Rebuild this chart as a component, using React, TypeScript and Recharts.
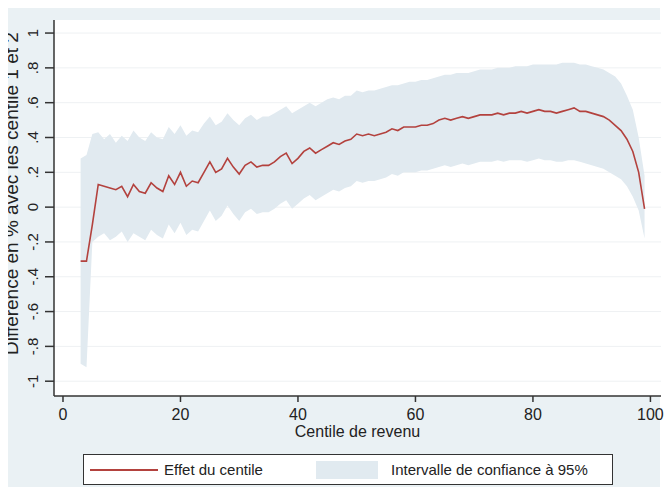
import React from 'react';
import { ComposedChart, Area, Line, XAxis, YAxis, CartesianGrid } from 'recharts';

// centiles de revenu
const centiles = [
  3, 4, 5, 6, 7, 8, 9, 10, 11, 12, 13, 14, 15, 16, 17, 18, 19, 20, 21, 22,
  23, 24, 25, 26, 27, 28, 29, 30, 31, 32, 33, 34, 35, 36, 37, 38, 39, 40, 41, 42,
  43, 44, 45, 46, 47, 48, 49, 50, 51, 52, 53, 54, 55, 56, 57, 58, 59, 60, 61, 62,
  63, 64, 65, 66, 67, 68, 69, 70, 71, 72, 73, 74, 75, 76, 77, 78, 79, 80, 81, 82,
  83, 84, 85, 86, 87, 88, 89, 90, 91, 92, 93, 94, 95, 96, 97, 98, 99,
];

// effet du centile (estimation)
const effet = [
  -0.31, -0.31, -0.1, 0.13, 0.12, 0.11, 0.1, 0.12, 0.06, 0.13, 0.09, 0.08, 0.14, 0.11, 0.09, 0.18, 0.13, 0.2, 0.12, 0.15,
  0.14, 0.2, 0.26, 0.2, 0.22, 0.28, 0.23, 0.19, 0.24, 0.26, 0.23, 0.24, 0.24, 0.26, 0.29, 0.31, 0.25, 0.28, 0.32, 0.34,
  0.31, 0.33, 0.35, 0.37, 0.36, 0.38, 0.39, 0.42, 0.41, 0.42, 0.41, 0.42, 0.43, 0.45, 0.44, 0.46, 0.46, 0.46, 0.47, 0.47,
  0.48, 0.5, 0.51, 0.5, 0.51, 0.52, 0.51, 0.52, 0.53, 0.53, 0.53, 0.54, 0.53, 0.54, 0.54, 0.55, 0.54, 0.55, 0.56, 0.55,
  0.55, 0.54, 0.55, 0.56, 0.57, 0.55, 0.55, 0.54, 0.53, 0.52, 0.5, 0.47, 0.44, 0.39, 0.32, 0.2, -0.01,
];

// bornes de l'intervalle de confiance à 95%
const icHaut = [
  0.28, 0.3, 0.42, 0.43, 0.39, 0.42, 0.37, 0.41, 0.38, 0.44, 0.4, 0.38, 0.43, 0.4, 0.39, 0.46, 0.42, 0.47, 0.41, 0.44,
  0.43, 0.48, 0.52, 0.47, 0.49, 0.54, 0.5, 0.47, 0.51, 0.53, 0.5, 0.52, 0.52, 0.54, 0.56, 0.58, 0.54, 0.56, 0.58, 0.6,
  0.58, 0.6, 0.62, 0.63, 0.62, 0.64, 0.64, 0.67, 0.66, 0.67, 0.67, 0.68, 0.69, 0.7, 0.7, 0.71, 0.72, 0.72, 0.73, 0.73,
  0.74, 0.75, 0.76, 0.76, 0.77, 0.77, 0.77, 0.78, 0.79, 0.79, 0.79, 0.8, 0.8, 0.8, 0.81, 0.81, 0.81, 0.82, 0.82, 0.82,
  0.82, 0.82, 0.83, 0.83, 0.83, 0.82, 0.82, 0.81, 0.8, 0.79, 0.77, 0.75, 0.71, 0.64, 0.56, 0.4, 0.18,
];

const icBas = [
  -0.9, -0.92, -0.2, -0.17, -0.15, -0.19, -0.17, -0.14, -0.2, -0.15, -0.17, -0.19, -0.13, -0.16, -0.18, -0.1, -0.15, -0.09, -0.16, -0.13,
  -0.14, -0.08, -0.02, -0.08, -0.05, 0.01, -0.04, -0.08, -0.03, -0.01, -0.04, -0.03, -0.03, -0.01, 0.02, 0.04, -0.01, 0.02, 0.05, 0.07,
  0.04, 0.06, 0.08, 0.1, 0.09, 0.11, 0.12, 0.15, 0.14, 0.15, 0.15, 0.16, 0.17, 0.19, 0.18, 0.2, 0.2, 0.2, 0.21, 0.21,
  0.22, 0.23, 0.24, 0.23, 0.24, 0.25, 0.24, 0.25, 0.26, 0.26, 0.26, 0.27, 0.26, 0.27, 0.27, 0.27, 0.26, 0.27, 0.28, 0.27,
  0.27, 0.26, 0.26, 0.27, 0.27, 0.26, 0.25, 0.24, 0.23, 0.22, 0.2, 0.18, 0.16, 0.12, 0.06, -0.02, -0.18,
];

const xTicks = [0, 20, 40, 60, 80, 100];
const yTicks = [-1, -0.8, -0.6, -0.4, -0.2, 0, 0.2, 0.4, 0.6, 0.8, 1];

const FONT = '"Liberation Sans", Arial, sans-serif';
const LINE_COLOR = '#b3423e';
const BAND_COLOR = '#e1eaf0';

const data = centiles.map((c, i) => ({
  c,
  effet: effet[i],
  ic: [icBas[i], icHaut[i]],
}));

// Stata-style labels: .8, -.2, 0, 1
function fmtY(v: number) {
  const r = Math.round(v * 10) / 10;
  if (r === 0) return '0';
  if (Math.abs(r) === 1) return r > 0 ? '1' : '-1';
  const s = Math.abs(r).toFixed(1).replace(/^0/, '');
  return r < 0 ? '-' + s : s;
}

function YTick(props: any) {
  const { y, payload } = props;
  const x = 38;
  return (
    <text
      x={x}
      y={y}
      transform={`rotate(-90 ${x} ${y})`}
      textAnchor="middle"
      fontSize={15}
      fontFamily={FONT}
      fill="#222"
    >
      {fmtY(payload.value)}
    </text>
  );
}

export default function App() {
  return (
    <div style={{ position: 'absolute', left: 0, top: 0, width: 667, height: 489, background: '#fff', overflow: 'hidden' }}>
      <div style={{ position: 'absolute', left: 8, top: 8, width: 652, height: 479, background: '#eaf1f4' }} />
      <div style={{ position: 'absolute', left: 0, top: 0 }}>
        <ComposedChart
          width={667}
          height={489}
          data={data}
          margin={{ top: 20, right: 6, bottom: 52, left: 0 }}
        >
          <CartesianGrid vertical={false} stroke="#eef1f3" fill="#ffffff" horizontalValues={yTicks} />
          <XAxis
            type="number"
            dataKey="c"
            domain={[-1.53, 101.8]}
            ticks={xTicks}
            allowDataOverflow
            height={41}
            tickSize={6}
            tickMargin={7}
            stroke="#333"
            strokeWidth={1.5}
            tick={{ fontSize: 16, fontFamily: FONT, fill: '#222' }}
            label={{ value: 'Centile de revenu', position: 'insideBottom', offset: 0, fontSize: 16, fontFamily: FONT, fill: '#222' }}
          />
          <YAxis
            type="number"
            domain={[-1.085, 1.075]}
            ticks={yTicks}
            allowDataOverflow
            width={54}
            tickSize={9}
            stroke="#333"
            strokeWidth={1.5}
            tick={<YTick />}
          />
          <Area
            type="linear"
            dataKey="ic"
            stroke="none"
            fill={BAND_COLOR}
            fillOpacity={1}
            isAnimationActive={false}
          />
          <Line
            type="linear"
            dataKey="effet"
            stroke={LINE_COLOR}
            strokeWidth={1.6}
            dot={false}
            isAnimationActive={false}
          />
        </ComposedChart>
      </div>
      <svg style={{ position: 'absolute', left: 0, top: 0 }} width={667} height={489}>
        <defs>
          <clipPath id="titleClip">
            <rect x={8} y={8} width={60} height={470} />
          </clipPath>
        </defs>
        <g clipPath="url(#titleClip)">
          <text
            x={18}
            y={355}
            transform="rotate(-90 18 355)"
            fontSize={19}
            fontFamily={FONT}
            fill="#222"
          >
            Différence en % avec les centile 1 et 2
          </text>
        </g>
      </svg>
      <div
        style={{
          position: 'absolute',
          left: 83,
          top: 454,
          width: 528,
          height: 29,
          border: '1px solid #333',
          background: '#fff',
          fontFamily: FONT,
          fontSize: 15,
          color: '#222',
        }}
      >
        <div style={{ position: 'absolute', left: 6, top: 14, width: 68, height: 2, background: LINE_COLOR }} />
        <div style={{ position: 'absolute', left: 80, top: 6 }}>Effet du centile</div>
        <div style={{ position: 'absolute', left: 232, top: 6, width: 62, height: 18, background: BAND_COLOR }} />
        <div style={{ position: 'absolute', left: 307, top: 6 }}>Intervalle de confiance à 95%</div>
      </div>
    </div>
  );
}
